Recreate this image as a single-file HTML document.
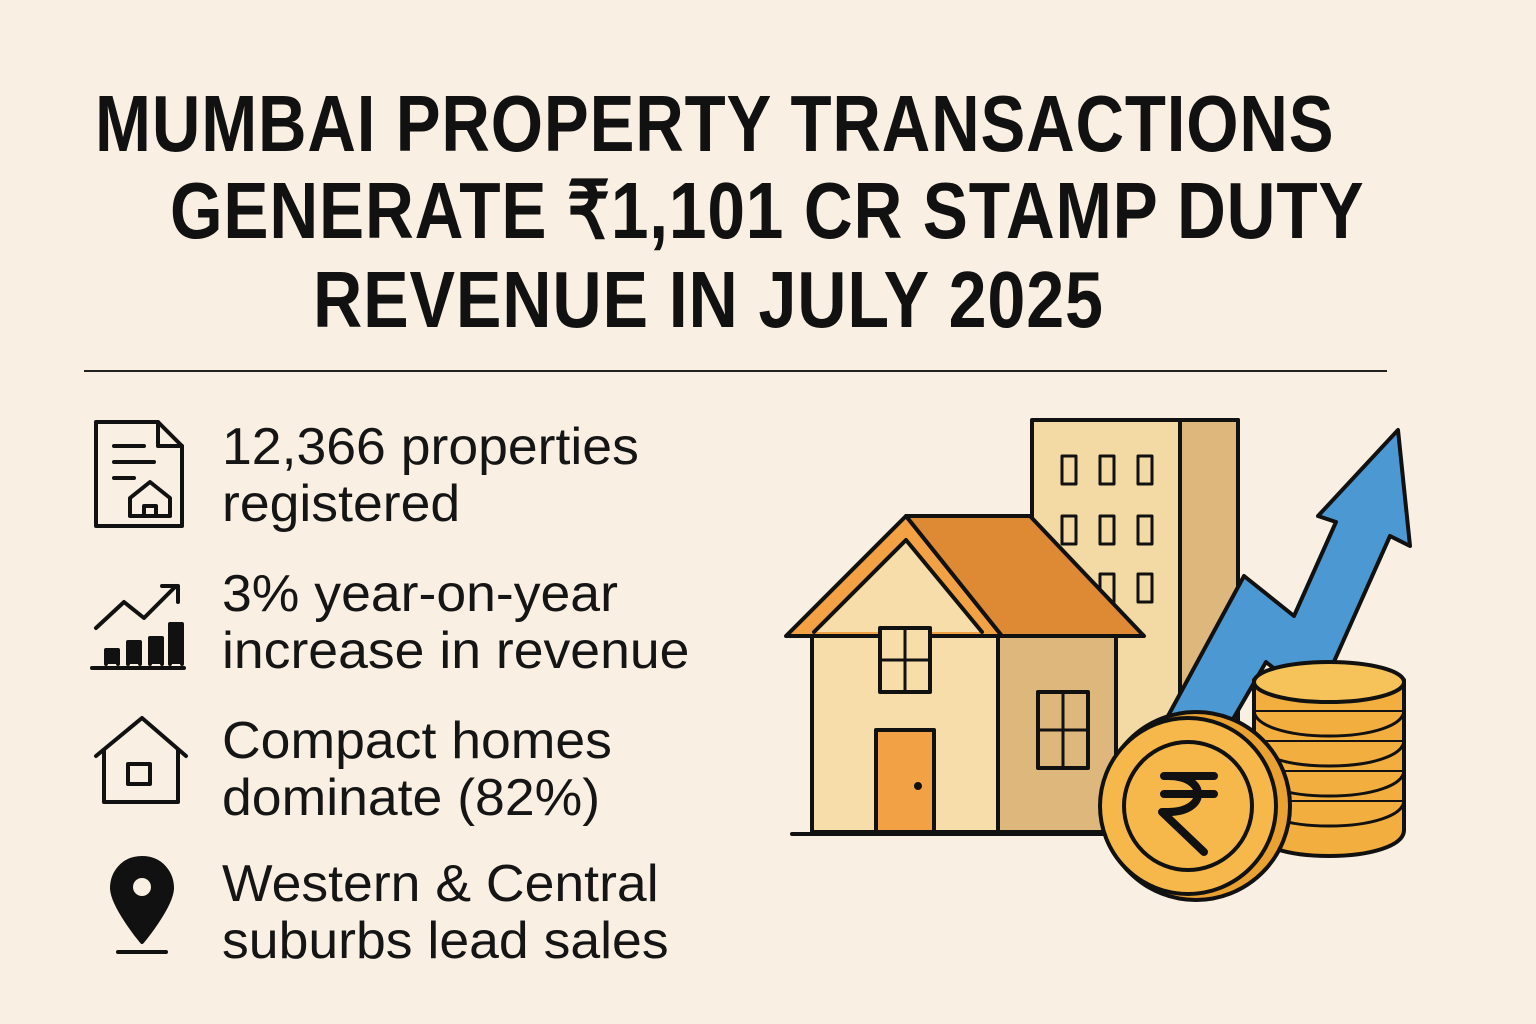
<!DOCTYPE html>
<html><head><meta charset="utf-8"><style>
html,body{margin:0;padding:0}
body{width:1536px;height:1024px;background:#f9efe2;position:relative;overflow:hidden;font-family:"Liberation Sans",sans-serif;color:#111}
.t{position:absolute;font-weight:bold;font-size:80px;line-height:80px;white-space:nowrap;transform-origin:0 0;letter-spacing:1px}
.rule{position:absolute;left:84px;top:370px;width:1303px;height:2px;background:#222}
.li{position:absolute;left:222px;font-size:52px;line-height:57px;color:#151515;white-space:nowrap;transform:scaleX(1.03);transform-origin:0 0}
</style></head><body>
<div class="t" style="left:95px;top:84px;transform:scaleX(0.84)">MUMBAI PROPERTY TRANSACTIONS</div>
<div class="t" style="left:170px;top:171px;transform:scaleX(0.845)">GENERATE ₹1,101 CR STAMP DUTY</div>
<div class="t" style="left:313px;top:260px;transform:scaleX(0.853)">REVENUE IN JULY 2025</div>
<div class="rule"></div>
<div class="li" style="top:419px">12,366 properties<br>registered</div>
<div class="li" style="top:566px">3% year-on-year<br>increase in revenue</div>
<div class="li" style="top:713px">Compact homes<br>dominate (82%)</div>
<div class="li" style="top:856px">Western &amp; Central<br>suburbs lead sales</div>
<svg width="1536" height="1024" style="position:absolute;left:0;top:0" fill="none" stroke="#111" stroke-width="4" stroke-linejoin="round" stroke-linecap="round">
<path d="M96 422h62l24 24v80H96z"/><path d="M158 422v24h24"/>
<path d="M114 446h30M114 462h40M114 478h20"/>
<path d="M130 498l20-16 20 16v18h-40z"/><path d="M144 516v-10h12v10"/>
<path d="M92 668h92"/><path d="M106 664v-14h12v14M128 664v-22h12v22M150 664v-26h12v26M170 664v-40h12v40" fill="#111"/>
<path d="M96 628l28-26 20 16 32-32"/><path d="M162 586h16v16"/>
<path d="M96 756l46-38 44 38"/><path d="M104 750v52h74v-52"/><rect x="128" y="764" width="22" height="20"/>
<path d="M142 858c-20 0-30 16-30 30 0 18 30 54 30 54s30-36 30-54c0-14-10-30-30-30z" fill="#111"/>
<circle cx="142" cy="887" r="9" fill="#f9efe2" stroke="none"/><path d="M118 952h48"/>
<rect x="1032" y="420" width="206" height="412" fill="#f3d9a4"/>
<rect x="1180" y="420" width="58" height="412" fill="#ddb77c"/>
<g fill="#f3d9a4" stroke-width="3">
<rect x="1062" y="456" width="14" height="28"/><rect x="1100" y="456" width="14" height="28"/><rect x="1138" y="456" width="14" height="28"/>
<rect x="1062" y="516" width="14" height="28"/><rect x="1100" y="516" width="14" height="28"/><rect x="1138" y="516" width="14" height="28"/>
<rect x="1100" y="574" width="14" height="28"/><rect x="1138" y="574" width="14" height="28"/>
</g>
<path d="M1168 716l76-140 50 40 42-94-18-6 80-86 12 116-20-10-74 166-50-40-52 90z" fill="#4b98d2"/>
<path d="M812 636h186v196H812z" fill="#f6ddaa"/>
<path d="M998 636h118v196H998z" fill="#ddb77c"/>
<path d="M786 636l120-120 96 120z" fill="#f2a244"/>
<path d="M906 516h124l114 120H1002z" fill="#de8a35"/>
<path d="M814 632l92-92 76 92" fill="#f6ddaa"/>
<rect x="880" y="628" width="50" height="64" fill="#f6ddaa"/><path d="M905 628v64M880 660h50" stroke-width="3"/>
<rect x="1038" y="692" width="50" height="76" fill="#ddb77c"/><path d="M1063 692v76M1038 730h50" stroke-width="3"/>
<rect x="876" y="730" width="58" height="102" fill="#f2a244"/><circle cx="918" cy="786" r="2" fill="#111"/>
<path d="M792 834h330"/>
<g fill="#f2ae3e">
<path d="M1254 830v-30h150v30c0 16-34 26-75 26s-75-10-75-26z"/>
<path d="M1254 800v-30h150v30"/><path d="M1254 770v-30h150v30"/><path d="M1254 740v-30h150v30"/><path d="M1254 710v-30h150v30"/>
<ellipse cx="1329" cy="682" rx="75" ry="20" fill="#f6c35a"/>
</g>
<path d="M1254 800c0 16 34 26 75 26s75-10 75-26M1254 770c0 16 34 26 75 26s75-10 75-26M1254 740c0 16 34 26 75 26s75-10 75-26M1254 710c0 16 34 26 75 26s75-10 75-26" stroke-width="3"/>
<circle cx="1196" cy="806" r="94" fill="#e9a232"/>
<circle cx="1188" cy="806" r="88" fill="#f6b84a"/>
<circle cx="1188" cy="806" r="64" fill="#f6b84a"/>
<path d="M1164 776h50M1164 794h50M1168 776c40 0 40 36 0 36h-6l42 40" stroke-width="8"/>
</svg>
</body></html>
